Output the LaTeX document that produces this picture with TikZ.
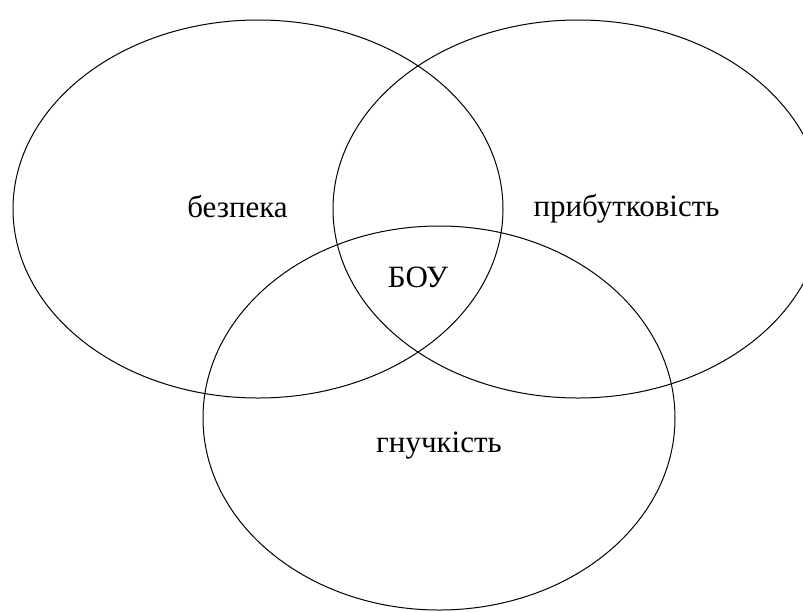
\documentclass[tikz,border=0pt]{standalone}
\usepackage{fontspec}
\setmainfont{Liberation Serif}
\usetikzlibrary{shapes.geometric}
\begin{document}
\begin{tikzpicture}[x=1pt,y=-1pt,
  circ/.style={draw=black,line width=1pt,ellipse,inner sep=0pt},
  lbl/.style={anchor=base,inner sep=0pt,font=\fontsize{31}{36}\selectfont}]
\useasboundingbox (0,0) rectangle (803,611);
\clip (0,0) rectangle (803,611);
% three overlapping sets
\node[circ,minimum width=490pt,minimum height=378pt] (safe) at (258,209) {};
\node[circ,minimum width=490pt,minimum height=378pt] (profit) at (578,209) {};
\node[circ,minimum width=472pt,minimum height=384pt] (flex) at (439,418) {};
% labels
\node[lbl] (tsafe) at (237.5,217) {безпека};
\node[lbl] (tprofit) at (626.5,216) {прибутковість};
\node[lbl] (tcore) at (418,287) {БОУ};
\node[lbl] (tflex) at (439,452) {гнучкість};
\end{tikzpicture}
\end{document}
